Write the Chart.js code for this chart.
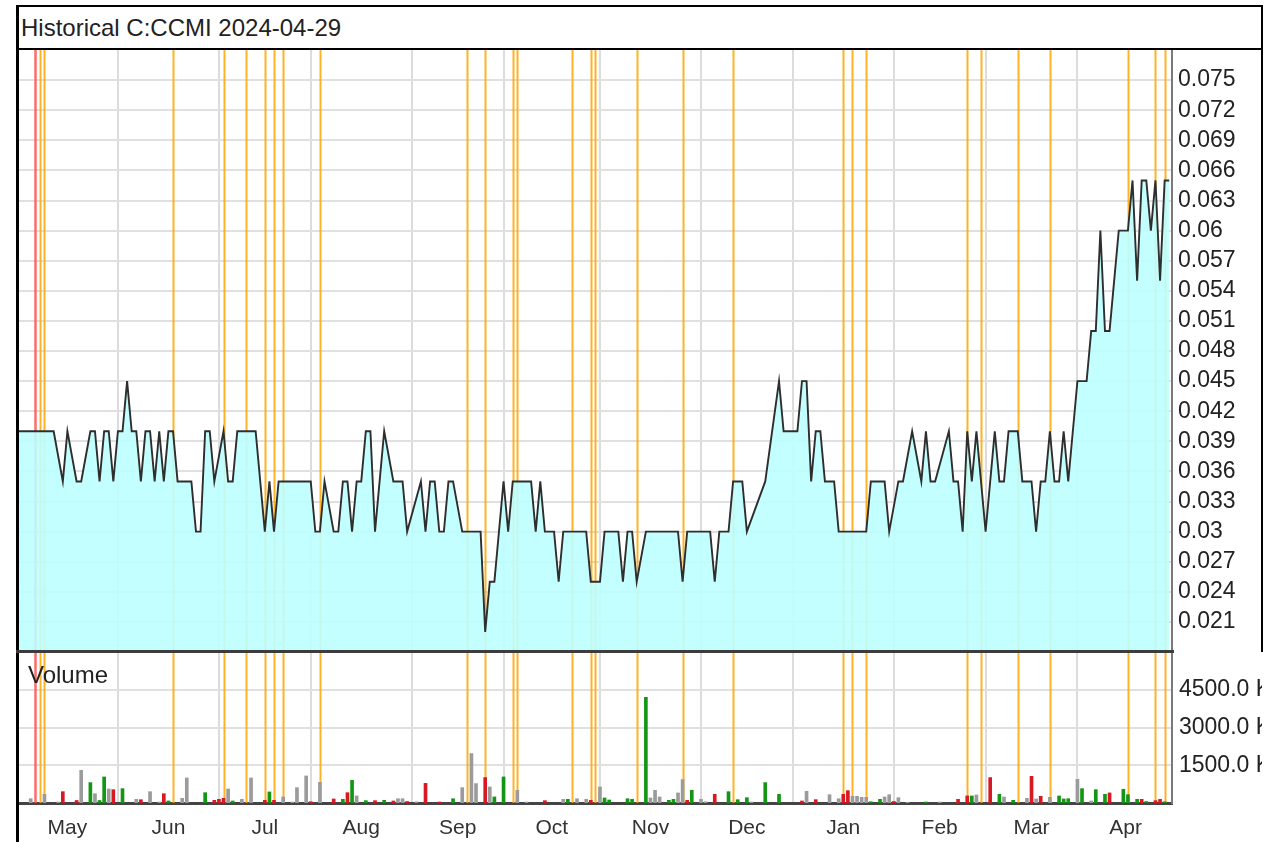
<!DOCTYPE html>
<html>
<head>
<meta charset="utf-8">
<script src="https://cdn.jsdelivr.net/npm/chart.js@4.4.1/dist/chart.umd.min.js"></script>
<style>
  body { margin: 0; background: #fff; width: 1268px; height: 842px; overflow: hidden; position: relative;
         font-family: "Liberation Sans", Arial, sans-serif; }
  canvas { position: absolute; }
  .line { position: absolute; background: #000; z-index: 5; }
  #title { position: absolute; left: 21px; top: 7px; height: 41px; line-height: 41px; font-size: 24px; color: #222; z-index: 6; }
</style>
</head>
<body>
<div id="title">Historical C:CCMI 2024-04-29</div>
<canvas id="priceChart" width="1246" height="602" style="left:16px;top:50px"></canvas>
<canvas id="volumeChart" width="1246" height="190" style="left:16px;top:652px"></canvas>

<!-- frame -->
<div class="line" style="left:16px;top:5px;width:3px;height:837px"></div>
<div class="line" style="left:16px;top:5px;width:1247px;height:2px"></div>
<div class="line" style="left:16px;top:48px;width:1247px;height:2px"></div>
<div class="line" style="left:1261px;top:5px;width:2px;height:647px"></div>
<div class="line" style="left:16px;top:650px;width:1158px;height:3px;background:#3c3c3c"></div>

<script>
const FONT = '"Liberation Sans", Arial, sans-serif';

// trading-day index (0 = first day in May) and closing price at each turning point
const priceDays = [0, 8, 10, 11, 13, 14, 16, 17, 18, 19, 20, 21, 22, 23, 24, 25, 26, 27, 28, 29, 30, 31, 32, 33, 34, 35, 38, 39, 40, 41, 42, 43, 45, 46, 47, 48, 52,
  54, 55, 56, 57, 64, 65, 66, 67, 69, 70, 71, 72, 73, 74, 75, 76, 77, 78, 80, 82, 84, 85, 88, 89, 90, 91, 92, 93, 94, 95, 97, 101,
  102, 103, 104, 106, 107, 108, 112, 113, 114, 115, 117, 118, 119, 124, 125, 127, 128, 131, 132, 133, 134, 135, 137, 144, 145, 146, 151, 152, 153, 155,
  156, 158, 159, 163, 166, 167, 170, 171, 172, 173, 174, 175, 176, 178, 179, 185, 186, 189, 190, 192, 193, 195, 197, 198, 199, 200,
  203, 204, 205, 206, 207, 208, 209, 211, 213, 214, 215, 216, 218, 219, 221, 222, 223, 224, 225, 226, 227, 228, 229,
  231, 233, 234, 235, 236, 237, 238, 240, 242, 243, 244, 245, 246, 247, 248, 249, 250, 251];
const priceValues = [0.040, 0.040, 0.035, 0.040, 0.035, 0.035, 0.040, 0.040, 0.035, 0.040, 0.040, 0.035, 0.040, 0.040, 0.045, 0.040, 0.040, 0.035, 0.040, 0.040, 0.035, 0.040, 0.035, 0.040, 0.040, 0.035, 0.035, 0.030, 0.030, 0.040, 0.040, 0.035, 0.040, 0.035, 0.035, 0.040, 0.040,
  0.030, 0.035, 0.030, 0.035, 0.035, 0.030, 0.030, 0.035, 0.030, 0.030, 0.035, 0.035, 0.030, 0.035, 0.035, 0.040, 0.040, 0.030, 0.040, 0.035, 0.035, 0.030, 0.035, 0.030, 0.035, 0.035, 0.030, 0.030, 0.035, 0.035, 0.030, 0.030,
  0.020, 0.025, 0.025, 0.035, 0.030, 0.035, 0.035, 0.030, 0.035, 0.030, 0.030, 0.025, 0.030, 0.030, 0.025, 0.025, 0.030, 0.030, 0.025, 0.030, 0.030, 0.025, 0.030, 0.030, 0.025, 0.030, 0.030, 0.025, 0.030, 0.030,
  0.035, 0.035, 0.030, 0.035, 0.045, 0.040, 0.040, 0.045, 0.045, 0.035, 0.040, 0.040, 0.035, 0.035, 0.030, 0.030, 0.035, 0.035, 0.030, 0.035, 0.035, 0.040, 0.035, 0.040, 0.035, 0.035,
  0.040, 0.035, 0.035, 0.030, 0.040, 0.035, 0.040, 0.030, 0.040, 0.035, 0.035, 0.040, 0.040, 0.035, 0.035, 0.030, 0.035, 0.035, 0.040, 0.035, 0.035, 0.040, 0.035,
  0.045, 0.045, 0.050, 0.050, 0.060, 0.050, 0.050, 0.060, 0.060, 0.065, 0.055, 0.065, 0.065, 0.060, 0.065, 0.055, 0.065, 0.065];

// [day, volume] pairs by bar colour
const volumeUp = [[0,610],[16,810],[18,100],[19,1035],[23,570],[33,80],[41,410],[47,80],[55,440],[71,146],[73,900],[76,93],[80,106],[95,170],
  [104,240],[106,1035],[120,146],[128,200],[129,120],[133,170],[134,146],[137,4200],[142,106],[143,146],[147,505],[155,450],[157,133],[159,212],
  [163,810],[166,345],[186,50],[188,146],[198,40],[208,280],[214,345],[217,106],[227,280],[228,160],[229,170],[232,570],[235,530],[237,345],
  [241,545],[242,330],[244,146],[246,60],[250,50]];
const volumeDown = [[10,450],[13,100],[21,530],[27,130],[32,370],[43,106],[44,146],[45,186],[54,106],[56,106],[64,50],[69,160],[72,410],[78,93],
  [82,80],[85,60],[89,780],[92,40],[102,1010],[115,93],[125,106],[146,106],[152,345],[171,80],[174,133],[180,345],[181,490],[191,60],[205,146],
  [207,280],[212,1010],[221,1060],[223,265],[238,400],[245,146],[248,93],[249,146]];
const volumeFlat = [[3,170],[6,345],[9,40],[14,1300],[17,370],[20,557],[26,145],[29,450],[31,40],[36,185],[37,995],[46,557],[49,146],[51,995],
  [58,240],[60,40],[61,610],[63,1075],[66,820],[74,280],[83,170],[84,170],[87,50],[97,610],[99,1965],[100,770],[103,637],[109,505],[111,40],
  [119,146],[122,170],[124,146],[127,637],[138,200],[139,505],[140,240],[144,400],[145,930],[149,146],[150,50],[160,40],[172,465],[177,330],
  [179,170],[182,265],[183,265],[184,225],[185,225],[189,240],[190,330],[192,212],[194,30],[201,40],[209,318],[215,240],[220,186],[222,160],
  [225,225],[231,940],[234,80]];

const redEvents = [4];
const orangeEvents = [5, 6, 34, 45, 50, 54, 56, 58, 66, 98, 102, 108, 109, 121, 125, 126, 135, 145, 156, 180, 182, 185, 207, 210, 218, 225, 242, 248, 250];

const monthNames = ['May', 'Jun', 'Jul', 'Aug', 'Sep', 'Oct', 'Nov', 'Dec', 'Jan', 'Feb', 'Mar', 'Apr'];
const monthStarts = [22, 44, 64, 86, 106, 127, 149, 169, 191, 211, 231];
const priceTicks = [0.021, 0.024, 0.027, 0.03, 0.033, 0.036, 0.039, 0.042, 0.045, 0.048, 0.051, 0.054, 0.057, 0.06, 0.063, 0.066, 0.069, 0.072, 0.075];
const volumeTicks = [1500, 3000, 4500];

const monthBounds = [0, ...monthStarts, 252];
const monthMids = monthNames.map((m, i) => (monthBounds[i] + monthBounds[i + 1]) / 2);

const eventLines = {
  id: 'eventLines',
  beforeDatasetsDraw(chart) {
    const {ctx, chartArea, scales} = chart;
    const draw = (days, color, width) => {
      ctx.strokeStyle = color;
      ctx.lineWidth = width;
      days.forEach(d => {
        const x = Math.round(scales.x.getPixelForValue(d)) + 0.5;
        ctx.beginPath();
        ctx.moveTo(x, chartArea.top);
        ctx.lineTo(x, chartArea.bottom);
        ctx.stroke();
      });
    };
    ctx.save();
    draw(orangeEvents, 'rgba(255,165,0,0.85)', 2);
    draw(redEvents, 'rgba(255,80,80,0.85)', 2.5);
    ctx.restore();
  }
};

function xAxis(showLabels) {
  return {
    type: 'linear', min: -0.2, max: 251.6, offset: false, bounds: 'data',
    afterBuildTicks: axis => {
      const vals = showLabels ? monthStarts.concat(monthMids) : monthStarts.slice();
      axis.ticks = vals.sort((a, b) => a - b).map(v => ({value: v}));
    },
    afterFit: axis => {
      axis.paddingLeft = 0;
      axis.paddingRight = 0;
      axis.height = showLabels ? 39 : 0;
    },
    grid: {
      color: c => (c.tick && monthStarts.includes(c.tick.value)) ? '#dcdcdc' : 'rgba(0,0,0,0)',
      lineWidth: 2, drawTicks: false, offset: false
    },
    border: showLabels ? {display: true, color: '#444', width: 3} : {display: false},
    ticks: {
      display: showLabels, autoSkip: false, maxRotation: 0, padding: 13, color: '#333',
      font: {family: FONT, size: 21},
      callback: v => { const i = monthMids.indexOf(v); return i >= 0 ? monthNames[i] : ''; }
    }
  };
}

new Chart(document.getElementById('priceChart'), {
  type: 'line',
  data: {
    datasets: [{
      data: priceDays.map((d, i) => ({x: d, y: priceValues[i]})),
      borderColor: '#2e2e2e',
      borderWidth: 1.9,
      pointRadius: 0,
      tension: 0,
      fill: 'start',
      backgroundColor: 'rgba(190,255,255,0.9)'
    }]
  },
  options: {
    responsive: false,
    animation: false,
    devicePixelRatio: 1,
    layout: {padding: 0},
    plugins: {legend: {display: false}, tooltip: {enabled: false}},
    scales: {
      x: xAxis(false),
      y: {
        position: 'right', min: 0.018, max: 0.078,
        afterBuildTicks: axis => { axis.ticks = priceTicks.map(v => ({value: v})); },
        afterFit: axis => { axis.width = 90; axis.paddingTop = 0; axis.paddingBottom = 0; },
        grid: {color: '#e0e0e0', lineWidth: 2, drawTicks: false},
        border: {color: '#7a7a7a', width: 2},
        ticks: {padding: 6, color: '#222', font: {family: FONT, size: 23}, callback: v => String(v)}
      }
    }
  },
  plugins: [eventLines]
});

const volumeLabel = {
  id: 'volumeLabel',
  afterDatasetsDraw(chart) {
    const ctx = chart.ctx;
    ctx.save();
    ctx.font = '24px ' + FONT;
    ctx.fillStyle = '#222';
    ctx.textBaseline = 'middle';
    ctx.fillText('Volume', chart.chartArea.left + 12, chart.chartArea.top + 24);
    ctx.restore();
  }
};

const barSet = (pairs, color) => ({
  data: pairs.map(([d, v]) => ({x: d, y: v})),
  backgroundColor: color,
  barThickness: 3,
  grouped: false
});

new Chart(document.getElementById('volumeChart'), {
  type: 'bar',
  data: {
    datasets: [
      barSet(volumeFlat, 'rgb(155,155,155)'),
      barSet(volumeUp, 'rgb(20,150,20)'),
      barSet(volumeDown, 'rgb(215,25,35)')
    ]
  },
  options: {
    responsive: false,
    animation: false,
    devicePixelRatio: 1,
    layout: {padding: 0},
    plugins: {legend: {display: false}, tooltip: {enabled: false}},
    scales: {
      x: xAxis(true),
      y: {
        position: 'right', min: 0, max: 6000,
        afterBuildTicks: axis => { axis.ticks = volumeTicks.map(v => ({value: v})); },
        afterFit: axis => { axis.width = 90; axis.paddingTop = 0; axis.paddingBottom = 0; },
        grid: {color: '#e0e0e0', lineWidth: 2, drawTicks: false},
        border: {color: '#7a7a7a', width: 2},
        ticks: {padding: 7, color: '#222', font: {family: FONT, size: 23}, callback: v => v.toFixed(1) + ' K'}
      }
    }
  },
  plugins: [eventLines, volumeLabel]
});
</script>
</body>
</html>
